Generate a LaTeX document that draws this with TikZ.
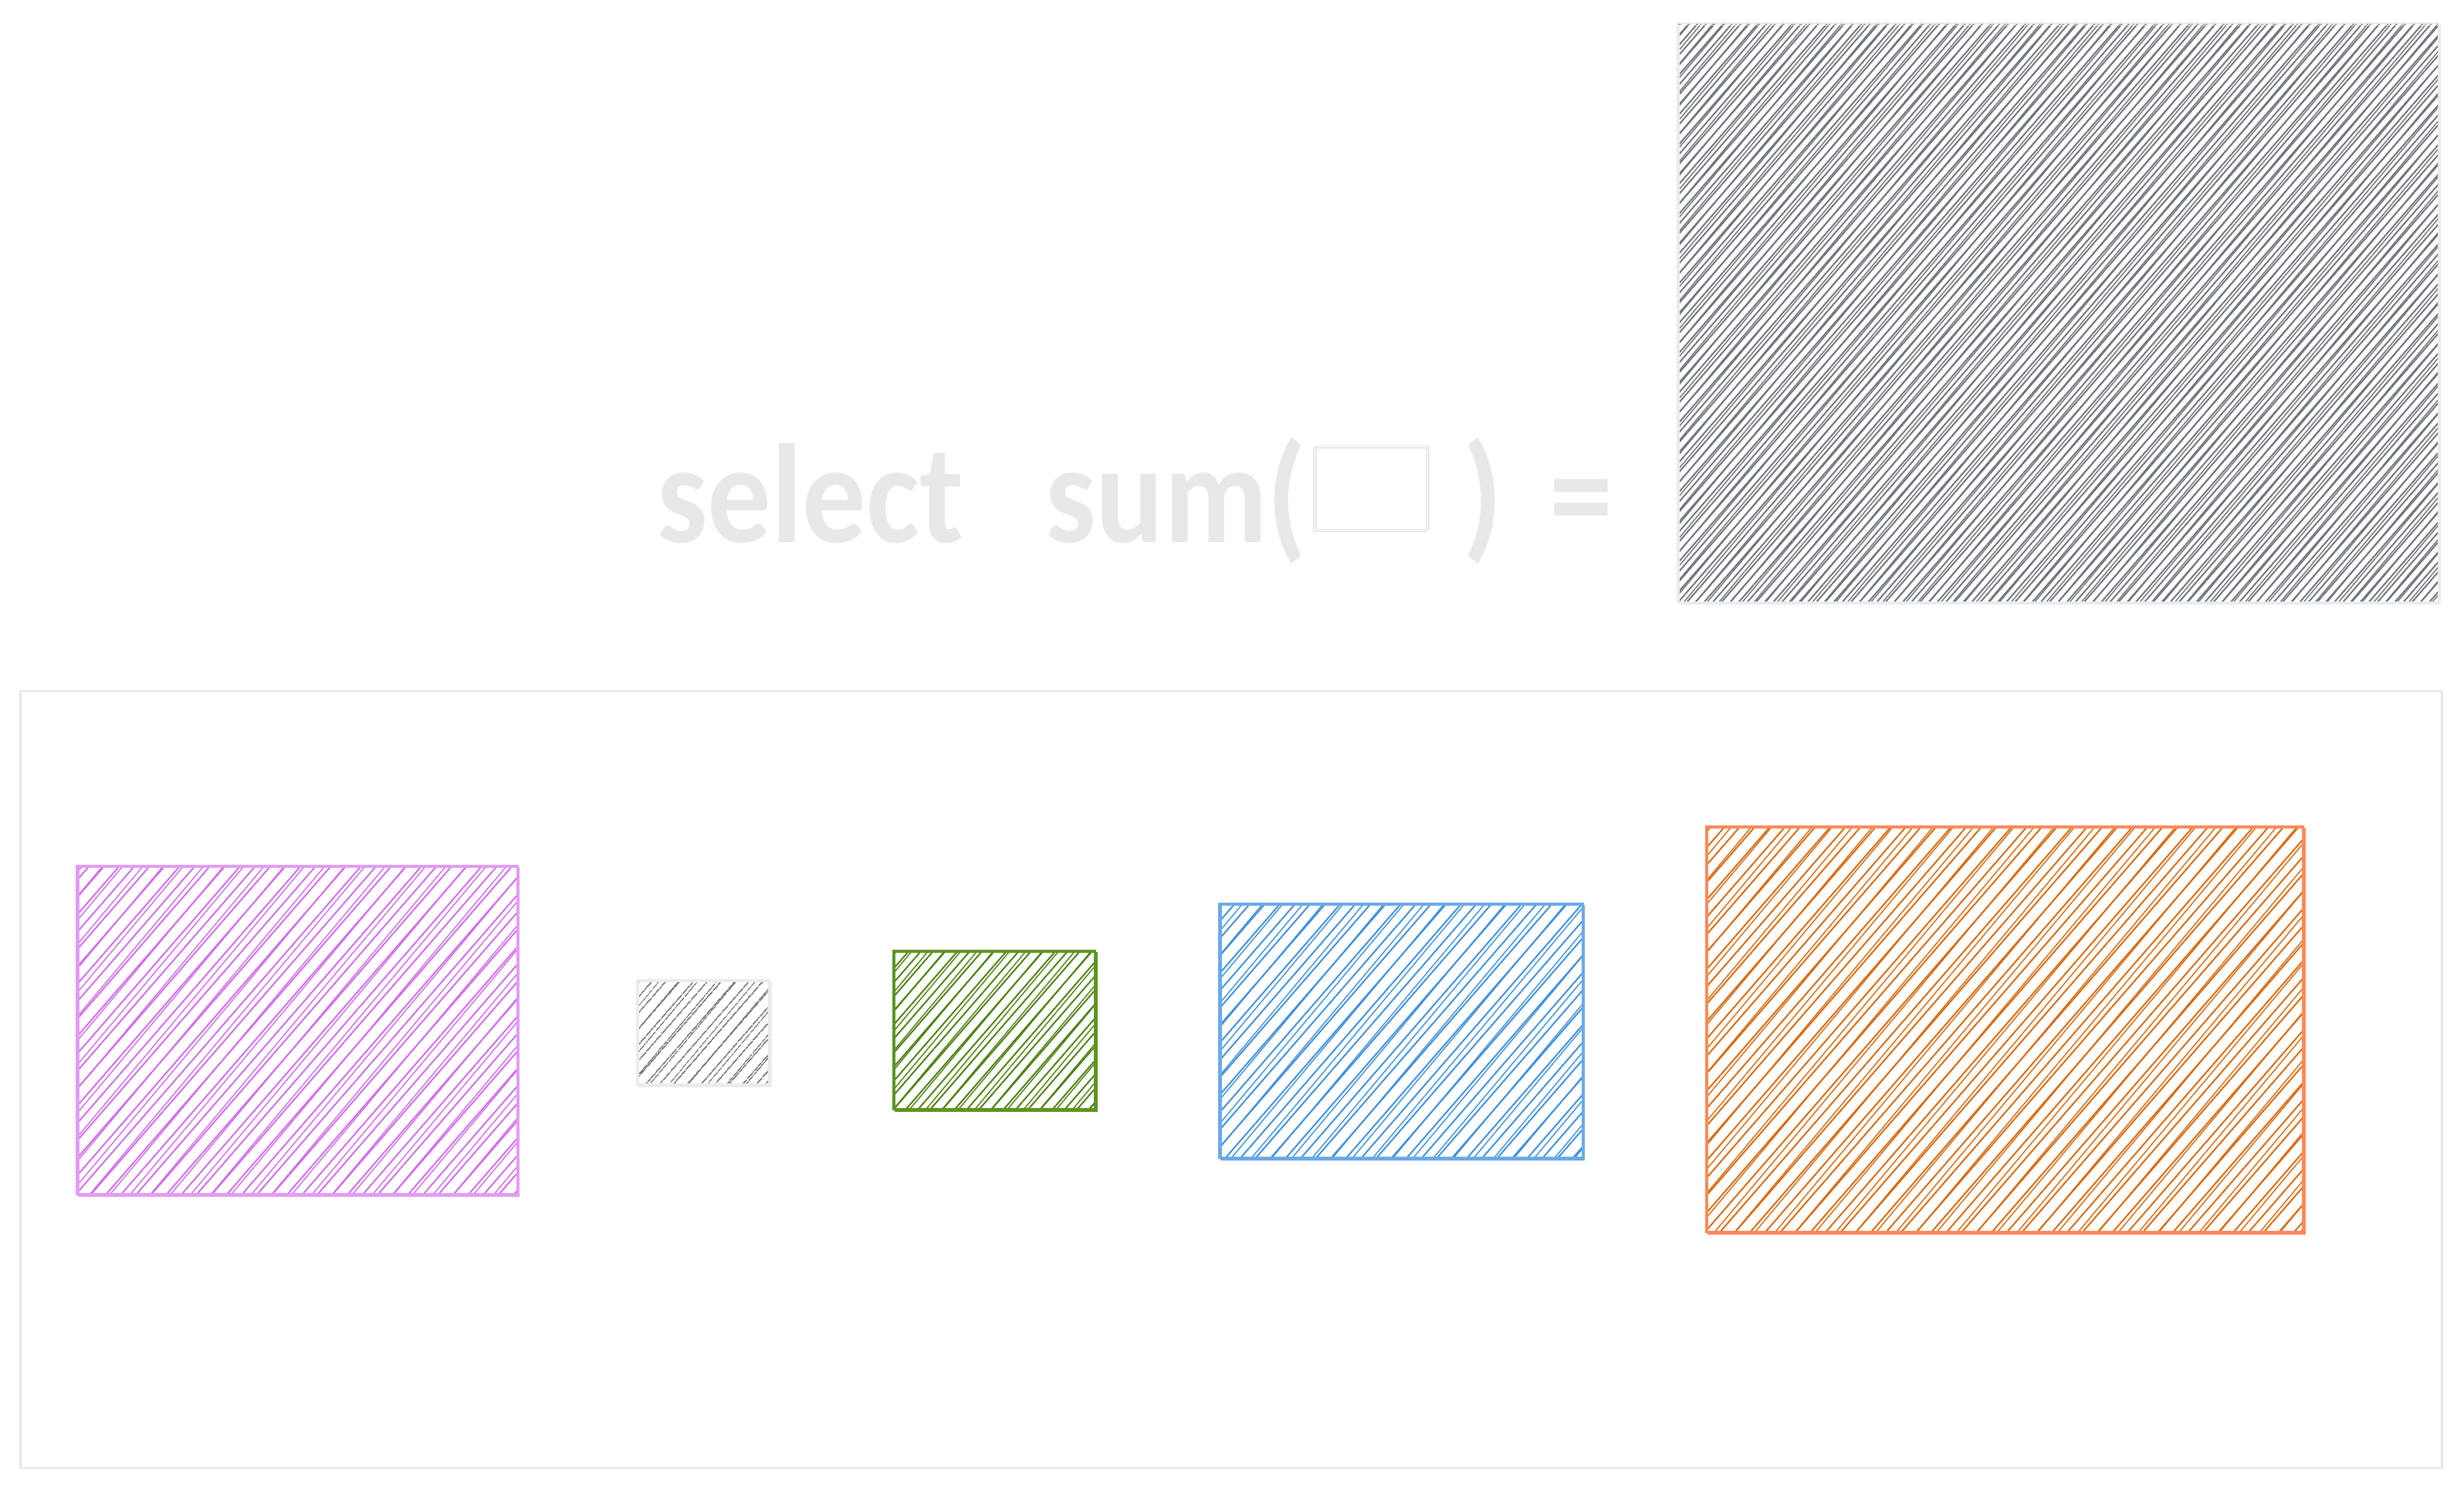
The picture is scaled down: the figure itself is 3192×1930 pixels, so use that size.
\documentclass[tikz,border=0pt]{standalone}
\usepackage{fontspec}
\newfontfamily\sketchfont{Carlito}[FakeStretch=0.9]
\usetikzlibrary{patterns.meta}
\definecolor{Sk_Text}{HTML}{E8E8E8}
\definecolor{Sk_Frame}{HTML}{E6E6E6}
\definecolor{Sk_GrayLine}{HTML}{E9ECEF}
\definecolor{Sk_Gray}{HTML}{6E737A}
\definecolor{Sk_VioletLine}{HTML}{E29CF5}
\definecolor{Sk_Violet}{HTML}{D06CEA}
\definecolor{Sk_GreenLine}{HTML}{5E9420}
\definecolor{Sk_Green}{HTML}{4A800E}
\definecolor{Sk_BlueLine}{HTML}{6AAAE8}
\definecolor{Sk_Blue}{HTML}{3D8FDE}
\definecolor{Sk_OrangeLine}{HTML}{FF8A58}
\definecolor{Sk_Orange}{HTML}{D9680C}

\begin{document}
\begin{tikzpicture}[
  x=0.01cm, y=-0.01cm,
  every node/.style={inner sep=0pt, outer sep=0pt},
  hatch/.style n args={4}{draw=#1, line width=0.8pt,
    preaction={pattern={Lines[angle=50, distance=#4, xshift=1.2pt, line width=0.4pt]},
      pattern color=#2},
    pattern={Lines[angle=49, distance=#3, line width=0.55pt]}, pattern color=#2,
    postaction={draw=#1, line width=0.5pt, transform canvas={xshift=0.6pt, yshift=-0.6pt}}},
  sktext/.style={text=Sk_Text, font=\sketchfont\fontsize{52}{60}\selectfont\bfseries,
    anchor=base west},
  slotbox/.style={draw=Sk_Text, line width=0.5pt,
    postaction={draw=Sk_Text, line width=0.4pt, transform canvas={xshift=0.8pt, yshift=0.7pt}}}
]
  \useasboundingbox (0,0) rectangle (3192,1930);

  % Query line
  \node[sktext] (sel) at (851,702) {select};
  \node[sktext] (sum) at (1354,702) {sum(};
  \node[slotbox, minimum width=1.46cm, minimum height=1.08cm] (slot) at (1775,634) {};
  \node[sktext] (eq) at (1895,702) {)\,\,=};

  % Query result
  \node[hatch={Sk_GrayLine}{Sk_Gray}{2.4pt}{3.3pt}, line width=0.5pt,
    minimum width=9.85cm, minimum height=7.49cm] (total) at (2666,405) {};

  % Panel with the parts
  \node[draw=Sk_Frame, line width=0.7pt, minimum width=31.35cm, minimum height=10.05cm]
    (panel) at (1595,1398) {};

  \node[hatch={Sk_VioletLine}{Sk_Violet}{4.2pt}{5.7pt},
    minimum width=5.70cm, minimum height=4.25cm] (violet) at (385,1334) {};
  \node[hatch={Sk_GrayLine}{Sk_Gray}{4.0pt}{5.4pt},
    minimum width=1.71cm, minimum height=1.35cm] (grey) at (911,1337) {};
  \node[hatch={Sk_GreenLine}{Sk_Green}{3.4pt}{4.6pt},
    minimum width=2.61cm, minimum height=2.05cm] (green) at (1288,1334) {};
  \node[hatch={Sk_BlueLine}{Sk_Blue}{4.2pt}{5.7pt},
    minimum width=4.70cm, minimum height=3.29cm] (blue) at (1815,1335) {};
  \node[hatch={Sk_OrangeLine}{Sk_Orange}{4.2pt}{5.7pt},
    minimum width=7.73cm, minimum height=5.25cm] (orange) at (2597,1333) {};
\end{tikzpicture}
\end{document}
